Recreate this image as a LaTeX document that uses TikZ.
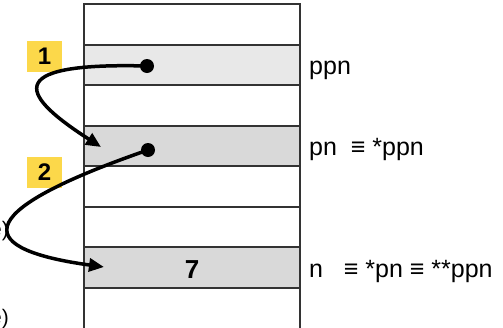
\documentclass[tikz,border=0pt]{standalone}
\usepackage{fontspec}
\setmainfont{Liberation Sans}
\usetikzlibrary{arrows.meta}
\definecolor{cellA}{HTML}{E8E8E8}
\definecolor{cellB}{HTML}{D9D9D9}
\definecolor{tagYellow}{HTML}{FCD84A}
\definecolor{gridline}{HTML}{333333}
\tikzset{
  memrow/.style={draw=gridline, line width=1.4pt},
  tagbox/.style={fill=tagYellow, minimum width=35pt, minimum height=31pt, inner sep=0pt,
    font=\fontsize{24}{27}\selectfont\bfseries},
  lbl/.style={anchor=base west, inner sep=0pt, font=\fontsize{25}{29}\selectfont},
  ptr/.style={line width=3.5pt, -{Triangle[length=15pt,width=13pt]}},
  dot/.style={circle, fill=black, minimum size=14pt, inner sep=0pt},
}
\begin{document}
\begin{tikzpicture}[x=1pt, y=-1pt]
  \useasboundingbox (0,0) rectangle (503,327);
  % shaded memory cells
  \fill[cellA] (84,45) rectangle (300,85);
  \fill[cellB] (84,126) rectangle (300,166);
  \fill[cellB] (84,247) rectangle (300,288);
  % memory column
  \draw[memrow] (84,340) -- (84,4) -- (300,4) -- (300,340);
  \foreach \yy in {45,85,126,166,207,247,288}
    \draw[memrow] (84,\yy) -- (300,\yy);
  % variable names
  \node[lbl] (ppn) at (309,74) {ppn};
  \node[lbl] (pn) at (309,155) {pn \ ≡ *ppn};
  \node[lbl] (n) at (309,277) {n \ \ ≡ *pn ≡ **ppn};
  \node[anchor=base, inner sep=0pt, font=\fontsize{26}{30}\selectfont\bfseries] (val) at (192,278) {7};
  % side remarks running off the left edge
  \node[anchor=base east, inner sep=0pt, font=\fontsize{21}{24}\selectfont] (rem1) at (9,236) {e)};
  \node[anchor=base east, inner sep=0pt, font=\fontsize{21}{24}\selectfont] (rem2) at (9,324) {e)};
  % step tags
  \node[tagbox] (t1) at (44.5,56.5) {1};
  \node[tagbox] (t2) at (44.5,172) {2};
  % pointer dots and arrow ends
  \node[dot] (d1) at (147,66) {};
  \node[dot] (d2) at (148,150) {};
  \coordinate (e1) at (101,147);
  \coordinate (e2) at (104,267);
  \draw[ptr] (d1.center) .. controls (-5,62) and (25,98) .. (e1);
  \draw[ptr] (d2.center) .. controls (-40,215) and (-20,250) .. (e2);
\end{tikzpicture}
\end{document}
